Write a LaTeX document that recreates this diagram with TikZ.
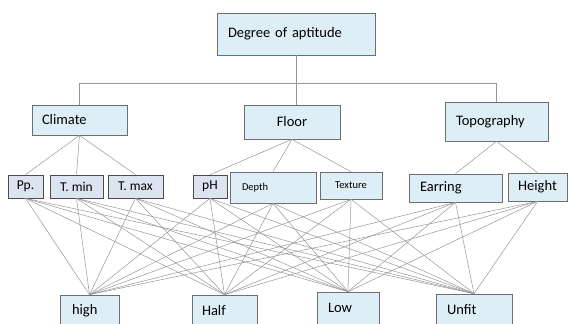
\documentclass[tikz,border=0pt]{standalone}
\usepackage{fontspec}
\setmainfont{Carlito}
\definecolor{boxblue}{RGB}{222,238,246}
\definecolor{boxlav}{RGB}{221,228,241}
\definecolor{edgegray}{RGB}{110,110,110}
\definecolor{linkgray}{RGB}{150,150,150}
\definecolor{shadeblue}{RGB}{68,114,196}
\begin{document}
\begin{tikzpicture}[x=1pt,y=-1pt,
    box/.style={draw=edgegray,fill=boxblue,line width=.7pt,inner ysep=0pt},
    var/.style={box,fill=boxlav,draw=black!70,minimum height=23pt,font=\fontsize{13.5}{16}\selectfont},
    small/.style={font=\fontsize{10.5}{13}\selectfont},
    big/.style={font=\fontsize{14.5}{17}\selectfont},
    link/.style={draw=linkgray,line width=.5pt}]
    \useasboundingbox (0,0) rectangle (568,324);
    \clip (0,0) rectangle (568,324);

    % root and the three groups
    \node[box,big,minimum height=42pt,inner xsep=11pt,text width=136pt,align=left] (root) at (296,34) {Degree of aptitude};
    \node[box,big,minimum height=30pt,inner xsep=10pt,text width=75pt,align=left] (clim) at (79.5,120) {Climate};
    \node[box,big,minimum height=34pt,minimum width=96pt] (floor) at (292,122) {Floor};
    \node[box,big,minimum height=39pt,inner xsep=11pt,text width=81pt,align=left] (topo) at (496.5,121.5) {Topography};
    \draw[shadeblue,line width=1pt] (root.south west) -- (root.south east);

    % variables
    \node[var,minimum width=35pt] (pp) at (25.5,186.5) {Pp.};
    \node[var,minimum width=53pt] (tmin) at (76.5,186.5) {T. min};
    \node[var,minimum width=55pt] (tmax) at (135.5,186.5) {T. max};
    \node[var,minimum width=34pt] (ph) at (210,186.5) {pH};
    \node[box,small,minimum height=31pt,inner xsep=12pt,text width=62pt,align=left] (depth) at (273,187.5) {Depth};
    \node[box,small,minimum height=27pt,minimum width=62pt] (textr) at (351,185.5) {Texture};
    \node[box,big,minimum height=28pt,inner xsep=11pt,text width=71pt,align=left] (earr) at (455.5,188) {Earring};
    \node[box,big,minimum height=28pt,minimum width=59pt] (hght) at (537.5,187) {Height};

    % classes (cut off at the bottom)
    \node[box,big,minimum height=32pt,inner xsep=12pt,text width=35pt,align=left] (high) at (89.5,311) {high};
    \node[box,big,minimum height=32pt,inner xsep=10pt,text width=45pt,align=left] (half) at (224.5,311) {Half};
    \node[box,big,minimum height=32pt,inner xsep=11pt,text width=40pt,align=left] (low) at (348,308) {Low};
    \node[box,big,minimum height=32pt,inner xsep=11pt,text width=54pt,align=left] (unfit) at (474,310) {Unfit};

    % tree
    \draw[link] (root.south) -- ++(0,28) coordinate (bus);
    \draw[link] (clim.north) |- (bus) -| (topo.north);
    \draw[link] (bus) -- (bus |- floor.north);
    \foreach \v in {pp,tmin,tmax}
        \draw[link] (clim.south) -- (\v.north);
    \foreach \v in {ph,depth,textr}
        \draw[link] (floor.south) -- (\v.north);
    \foreach \v in {earr,hght}
        \draw[link] (topo.south) -- (\v.north);

    % every variable to every class
    \foreach \v in {pp,tmin,tmax,ph,depth,textr,earr,hght}
        \foreach \c in {high,half,low,unfit}
            \draw[link] (\v.south) -- (\c.north);
\end{tikzpicture}
\end{document}
